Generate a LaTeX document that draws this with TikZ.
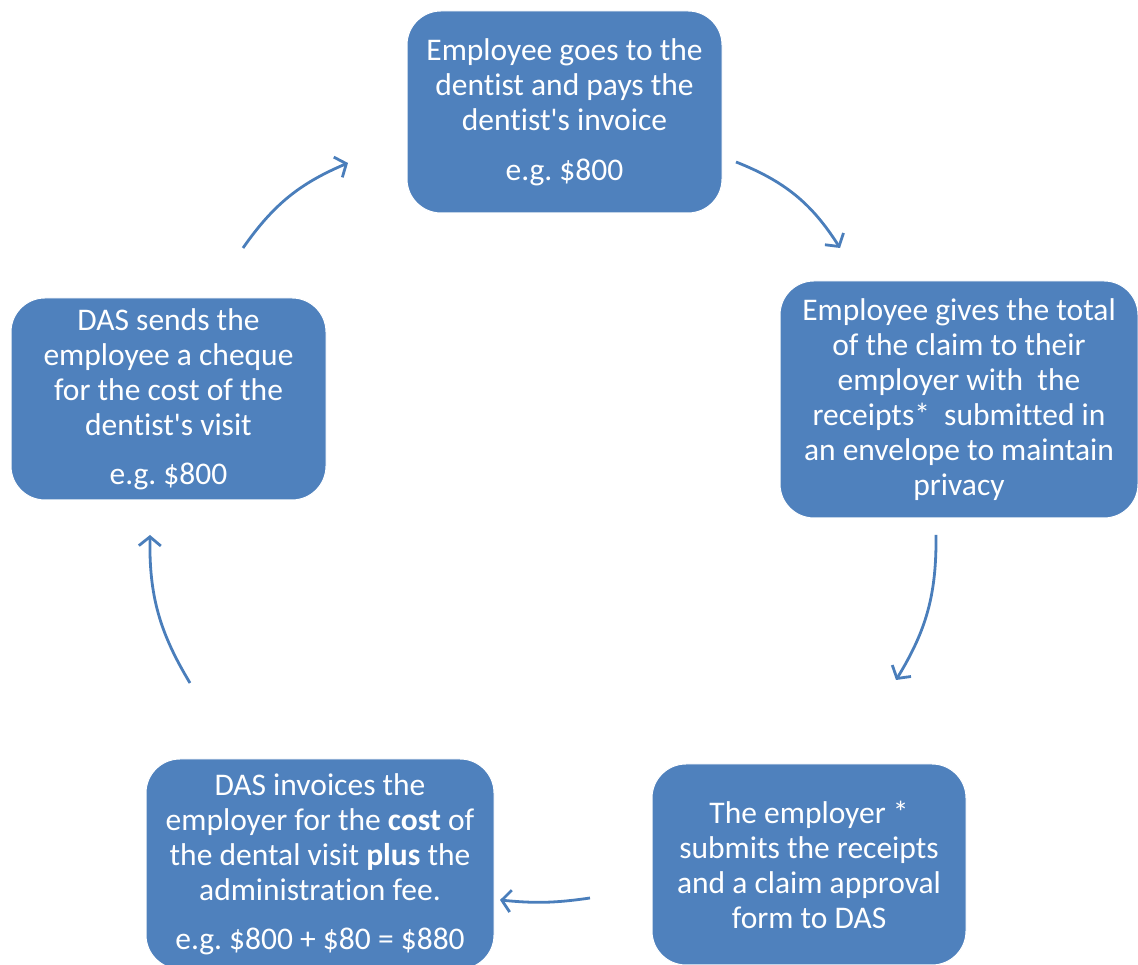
\documentclass[tikz,border=0pt]{standalone}
\usepackage{fontspec}
\setmainfont{Carlito}[Ligatures={NoCommon}]
\usetikzlibrary{arrows.meta}
\definecolor{boxblue}{HTML}{4F81BD}
\definecolor{arrowblue}{HTML}{4A7EBB}
\newcommand{\apos}{\textquotesingle}
\tikzset{
  stepbox/.style={rectangle, rounded corners=34pt, fill=boxblue, draw=white, line width=1pt,
    text=white, align=center, inner sep=0pt, font=\fontsize{31.5}{35}\selectfont},
  flow/.style={draw=arrowblue, line width=2.8pt, -{Straight Barb[length=9pt,width=22pt,line width=2.8pt]}}
}
\frenchspacing
\begin{document}
\begin{tikzpicture}[x=1pt,y=1pt]
\useasboundingbox (0,0) rectangle (1138,965);
\node[stepbox, minimum width=315pt, minimum height=202pt] (visit) at (564.5,853)
  {Employee goes to the\\dentist and pays the\\dentist\apos s invoice\\[15pt]e.g. \$800};
\node[stepbox, minimum width=358pt, minimum height=237pt] (claim) at (959,565.5)
  {Employee gives the total\\of the claim to their\\employer with\ \ the\\receipts*\ \ submitted in\\an envelope to maintain\\privacy};
\node[stepbox, minimum width=314pt, minimum height=201pt] (submit) at (809,100.5)
  {The employer *\\submits the receipts\\and a claim approval\\form to DAS};
\node[stepbox, minimum width=348pt, minimum height=210pt] (invoice) at (320,101)
  {DAS invoices the\\employer for the \textbf{cost} of\\the dental visit \textbf{plus} the\\administration fee.\\[14pt]e.g. \$800 + \$80 = \$880};
\node[stepbox, minimum width=315pt, minimum height=202pt] (cheque) at (168.5,566)
  {DAS sends the\\employee a cheque\\for the cost of the\\dentist\apos s visit\\[14pt]e.g. \$800};
\coordinate (a1s) at (736,803);
\coordinate (a1e) at (840,717);
\coordinate (a2s) at (936,430);
\coordinate (a2e) at (896,285);
\coordinate (a3s) at (590,67);
\coordinate (a3e) at (500,65);
\coordinate (a4s) at (190,282);
\coordinate (a4e) at (150,430);
\coordinate (a5s) at (243,717);
\coordinate (a5e) at (348,802);
\draw[flow] (a1s) to[bend left=18] (a1e);
\draw[flow] (a2s) to[bend left=16] (a2e);
\draw[flow] (a3s) to[bend left=7] (a3e);
\draw[flow] (a4s) to[bend left=16] (a4e);
\draw[flow] (a5s) to[bend left=16] (a5e);
\end{tikzpicture}
\end{document}
